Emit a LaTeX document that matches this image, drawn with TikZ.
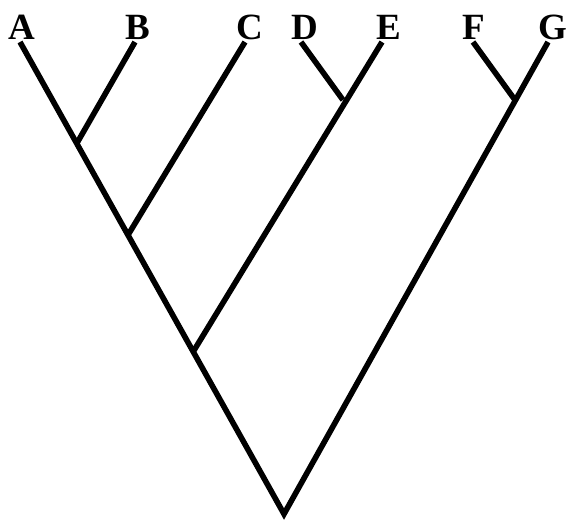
\documentclass[tikz,border=0pt]{standalone}
\usepackage{fontspec}
\setmainfont{Liberation Serif}
\usetikzlibrary{positioning}

\begin{document}
\begin{tikzpicture}[x=0.5pt,y=-0.5pt,
  branch/.style={line width=2.8pt,black},
  taxon/.style={anchor=base,font=\fontsize{18.5}{18.5}\selectfont\bfseries,inner sep=0pt}]
  \useasboundingbox (0,0) rectangle (567,521);
  % Tips
  \coordinate (tA) at (20,42);
  \coordinate (tB) at (135,42);
  \coordinate (tC) at (245,42);
  \coordinate (tD) at (301,42);
  \coordinate (tE) at (382,42);
  \coordinate (tF) at (473,42);
  \coordinate (tG) at (548,42);
  % Internal nodes
  \coordinate (nAB) at (77,143);
  \coordinate (nABC) at (128,235);
  \coordinate (nDE) at (343,100);
  \coordinate (nFG) at (515,100);
  \coordinate (nAE) at (193,352);
  \coordinate (root) at (284,514);
  % Labels
  \node[taxon] (lA) at (22,39) {A};
  \node[taxon] (lB) at (138,39) {B};
  \node[taxon] (lC) at (250,39) {C};
  \node[taxon] (lD) at (305,39) {D};
  \node[taxon] (lE) at (389,39) {E};
  \node[taxon] (lF) at (474,39) {F};
  \node[taxon] (lG) at (553,39) {G};
  % Branches
  \draw[branch] (tA) -- (root) -- (tG);
  \draw[branch] (tB) -- (nAB);
  \draw[branch] (tC) -- (nABC);
  \draw[branch] (tE) -- (nAE);
  \draw[branch] (tD) -- (nDE);
  \draw[branch] (tF) -- (nFG);
\end{tikzpicture}
\end{document}
